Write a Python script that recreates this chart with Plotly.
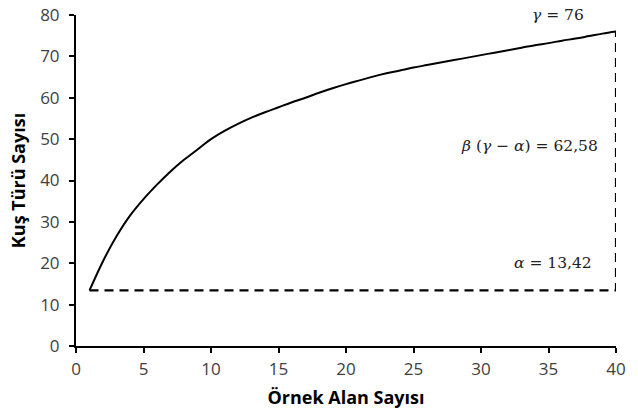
import plotly.graph_objects as go

# Data
ornek_alan = list(range(1, 41))
kus_turu = [13.42, 20.5, 26.5, 31.5, 35.5, 39.0, 42.2, 45.0, 47.5, 50.0,
            52.0, 53.7, 55.2, 56.5, 57.7, 58.9, 60.0, 61.2, 62.3, 63.3,
            64.2, 65.1, 65.9, 66.6, 67.3, 67.9, 68.5, 69.1, 69.7, 70.3,
            70.9, 71.5, 72.1, 72.7, 73.2, 73.8, 74.3, 74.9, 75.5, 76.0]
alpha = 13.42
gamma = 76
x_min_obs = 1
x_max_obs = 40

fig = go.Figure()
fig.add_trace(go.Scatter(x=ornek_alan, y=kus_turu, mode="lines",
                         line=dict(color="black", width=2), line_shape="spline",
                         showlegend=False, hoverinfo="skip"))
fig.add_trace(go.Scatter(x=[x_min_obs, x_max_obs, x_max_obs], y=[alpha, alpha, gamma],
                         mode="lines", line=dict(color="black", width=2.2, dash="9px,6px"),
                         showlegend=False, hoverinfo="skip"))

serif = "DejaVu Serif, serif"
ann_font = dict(family=serif, size=15.5, color="#222")
fig.add_annotation(x=35.7, y=80, text="<i>γ</i> = 76", showarrow=False,
                   xanchor="center", yanchor="middle", font=ann_font)
fig.add_annotation(x=38.8, y=48.3, text="<i>β</i> (<i>γ</i> − <i>α</i>) = 62,58", showarrow=False,
                   xanchor="right", yanchor="middle", font=ann_font)
fig.add_annotation(x=38.4, y=20, text="<i>α</i> = 13,42", showarrow=False,
                   xanchor="right", yanchor="middle", font=ann_font)

sans = "Open Sans, sans-serif"
axis_common = dict(showgrid=False, zeroline=False, showline=True, linecolor="black",
                   linewidth=2, ticks="outside", ticklen=5, tickwidth=2, tickcolor="black",
                   automargin=False,
                   tickfont=dict(family=sans, size=17, color="#404040"))
fig.update_xaxes(range=[0, 40], dtick=5, ticklabelstandoff=2,
                 title=dict(text="<b>Örnek Alan Sayısı</b>", font=dict(family=sans, size=18, color="black"), standoff=12),
                 **axis_common)
fig.update_yaxes(range=[0, 80], dtick=10, ticklabelstandoff=6,
                 title=dict(text="<b>Kuş Türü Sayısı</b>", font=dict(family=sans, size=18, color="black"), standoff=10),
                 **axis_common)

fig.update_layout(width=638, height=412, margin=dict(l=76, r=22, t=15, b=66),
                  plot_bgcolor="white", paper_bgcolor="white")
fig.write_html("out.html")
